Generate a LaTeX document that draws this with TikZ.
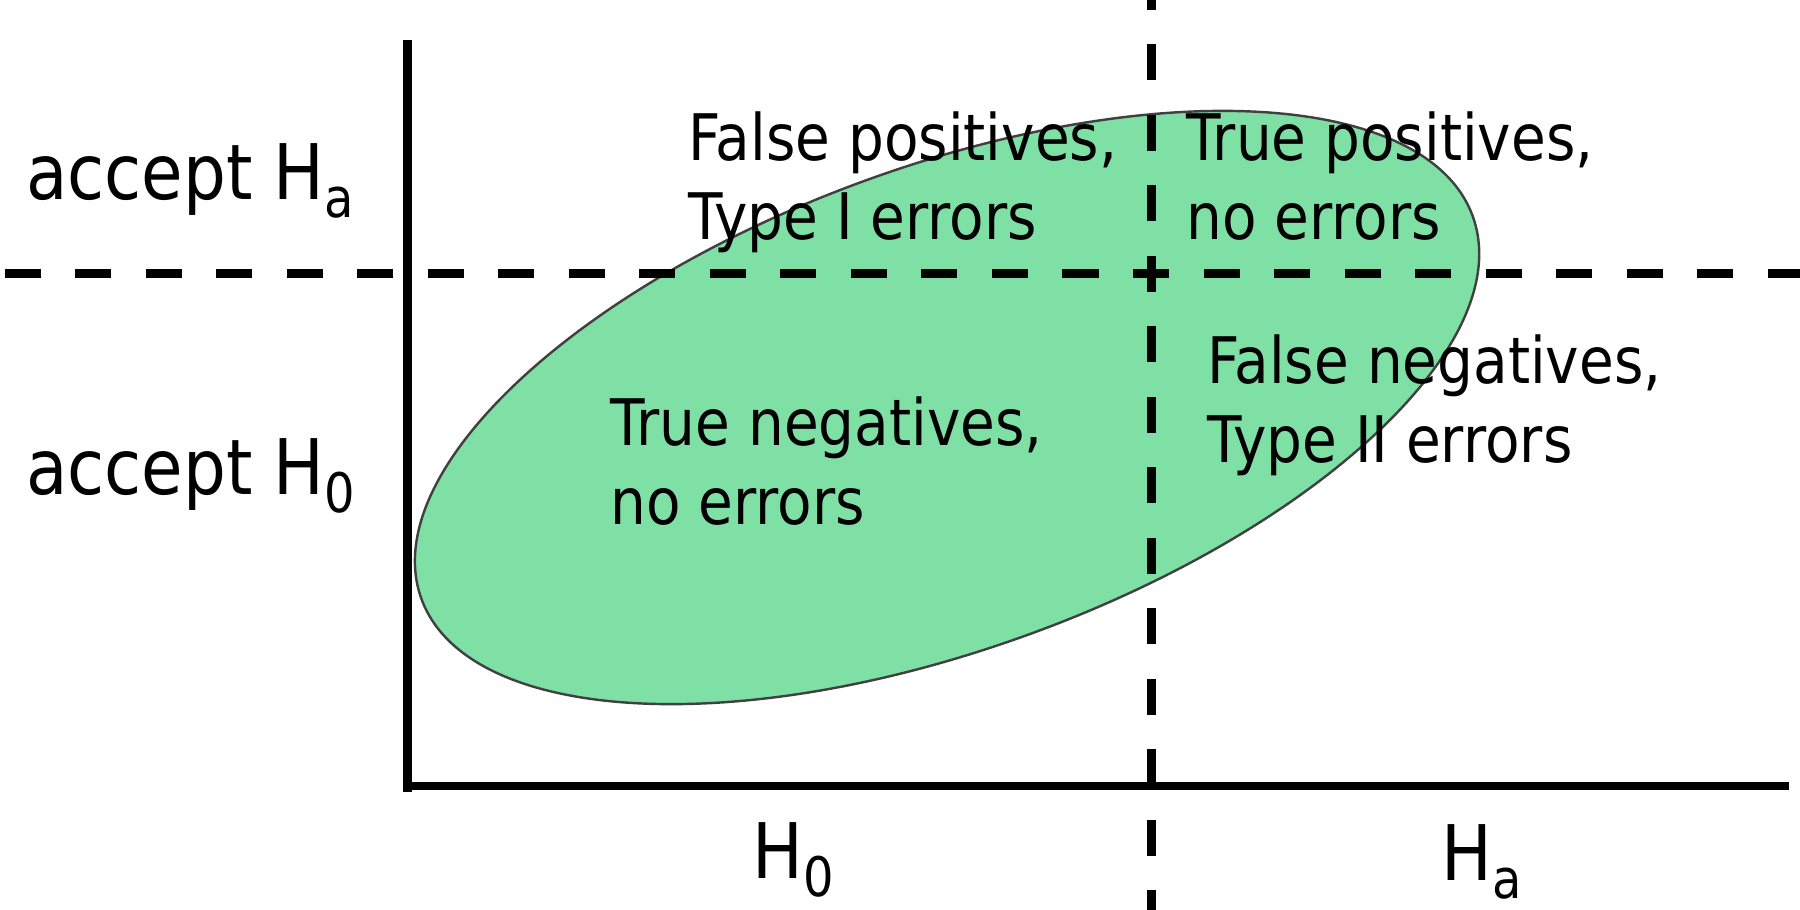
\documentclass[tikz,border=0pt]{standalone}
\usepackage{fontspec}
\setmainfont{DejaVu Sans}[FakeStretch=0.88]
\definecolor{regiongreen}{RGB}{127,224,165}
\newcommand{\lowidx}[1]{\raisebox{-4.5pt}{\fontsize{13.5}{13.5}\selectfont #1}}

\begin{document}
\begin{tikzpicture}[x=0.01cm, y=-0.01cm,
  axis/.style={line width=2pt},
  cut/.style={line width=2.2pt, dash pattern=on 0.314cm off 0.30cm},
  cell/.style={anchor=base west, align=left, inner sep=0pt,
    font=\fontsize{15.9}{19.6}\selectfont},
  side/.style={anchor=base west, inner sep=0pt, font=\fontsize{19}{22}\selectfont}]

\useasboundingbox (0,0) rectangle (1568,792);

\coordinate (ytop) at (355,35);
\coordinate (ybot) at (355,690);
\coordinate (origin) at (355,685);
\coordinate (xend) at (1558,685);

% the region
\filldraw[fill=regiongreen, draw=black!75, line width=0.6pt]
  (825,355) circle [x radius=4.87cm, y radius=2.1cm, rotate=20];

% decision lines
\draw[cut] (1003,-23) -- (1003,800);
\draw[cut] (4,238) -- (1568,238);

% axes
\draw[axis] (ytop) -- (ybot);
\draw[axis] (origin) -- (xend);

\node[side] (accA) at (22,174) {accept H\lowidx{a}};
\node[side] (acc0) at (22,431) {accept H\lowidx{0}};

% base anchor is the last line
\node[cell] (fp) at (599,209) {False positives,\\Type I errors};
\node[cell] (tp) at (1033,209) {True positives,\\no errors};
\node[cell] (tn) at (531,457) {True negatives,\\no errors};
\node[cell] (fn) at (1051,403) {False negatives,\\Type II errors};

\node[side] (h0) at (655,765) {H\lowidx{0}};
\node[side] (ha) at (1255,767) {H\lowidx{a}};
\end{tikzpicture}
\end{document}
